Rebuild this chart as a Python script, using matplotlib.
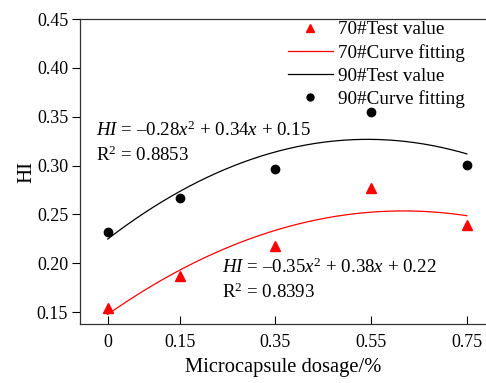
import numpy as np
import matplotlib
matplotlib.use("Agg")
import matplotlib.pyplot as plt
from matplotlib.lines import Line2D

plt.rcParams['font.family'] = ['Liberation Serif', 'DejaVu Serif']
plt.rcParams['mathtext.fontset'] = 'custom'
plt.rcParams['mathtext.rm'] = 'Liberation Serif'
plt.rcParams['mathtext.it'] = 'Liberation Serif:italic'

dosage = [0, 0.15, 0.35, 0.55, 0.75]
hi_70 = [0.154, 0.187, 0.218, 0.277, 0.239]
hi_90 = [0.232, 0.267, 0.296, 0.355, 0.301]
xticks = [0, 0.15, 0.35, 0.55, 0.75]
xticklabels = ['0', '0.15', '0.35', '0.55', '0.75']
yticks = [0.15, 0.20, 0.25, 0.30, 0.35, 0.40, 0.45]

fig = plt.figure(figsize=(4.86, 3.83), dpi=100)
ax = fig.add_axes([0.1646, 0.154, 0.8354, 0.796])

# quadratic fits drawn as curves
xs = np.linspace(0, 0.75, 200)
fit70 = np.polyval(np.polyfit(dosage, hi_70, 2), xs)
fit90 = np.polyval(np.polyfit(dosage, hi_90, 2), xs)

ax.plot(xs, fit70, color='red', linewidth=0.9)
ax.plot(xs, fit90, color='black', linewidth=0.9)
ax.plot(dosage, hi_70, linestyle='none', marker='^', color='red', markersize=7)
ax.plot(dosage, hi_90, linestyle='none', marker='o', color='black', markersize=6)

ax.set_xlim(-0.058, 0.79)
ax.set_ylim(0.1377, 0.45)
ax.set_xticks(xticks)
ax.set_xticklabels(xticklabels)
ax.set_yticks(yticks)
ax.set_yticklabels(['%.2f' % v for v in yticks])
ax.tick_params(axis='x', direction='in', length=6, width=0.8, labelsize=13, pad=7)
ax.tick_params(axis='y', direction='out', length=6, width=0.8, labelsize=13, pad=2.5)
ax.spines['right'].set_visible(False)
for s in ['left', 'bottom', 'top']:
    ax.spines[s].set_linewidth(0.9)
    ax.spines[s].set_color('#333333')

ax.set_xlabel('Microcapsule dosage/%', fontsize=14.8, labelpad=5)
ax.set_ylabel('HI', fontsize=15, labelpad=0.5)

ax.text(-0.024, 0.3364, r'$\it{HI}$ = –0.28$\it{x}^2$ + 0.34$\it{x}$ + 0.15',
        fontsize=13.6, va='center')
ax.text(-0.024, 0.3108, r'R$^2$ = 0.8853', fontsize=13.6, va='center')
ax.text(0.238, 0.1962, r'$\it{HI}$ = –0.35$\it{x}^2$ + 0.38$\it{x}$ + 0.22',
        fontsize=13.6, va='center')
ax.text(0.238, 0.1706, r'R$^2$ = 0.8393', fontsize=13.6, va='center')

handles = [
    Line2D([], [], linestyle='none', marker='^', color='red', markersize=6),
    Line2D([], [], color='red', linewidth=0.9),
    Line2D([], [], color='black', linewidth=0.9),
    Line2D([], [], linestyle='none', marker='o', color='black', markersize=5),
]
labels = ['70#Test value', '70#Curve fitting', '90#Test value', '90#Curve fitting']
ax.legend(handles, labels, loc='upper left', bbox_to_anchor=(0.507, 1.0),
          frameon=False, fontsize=13.8, handlelength=2.35, handletextpad=0.25,
          labelspacing=0.28, borderaxespad=0.0, borderpad=0.1)

fig.savefig('out.png', dpi=100)
